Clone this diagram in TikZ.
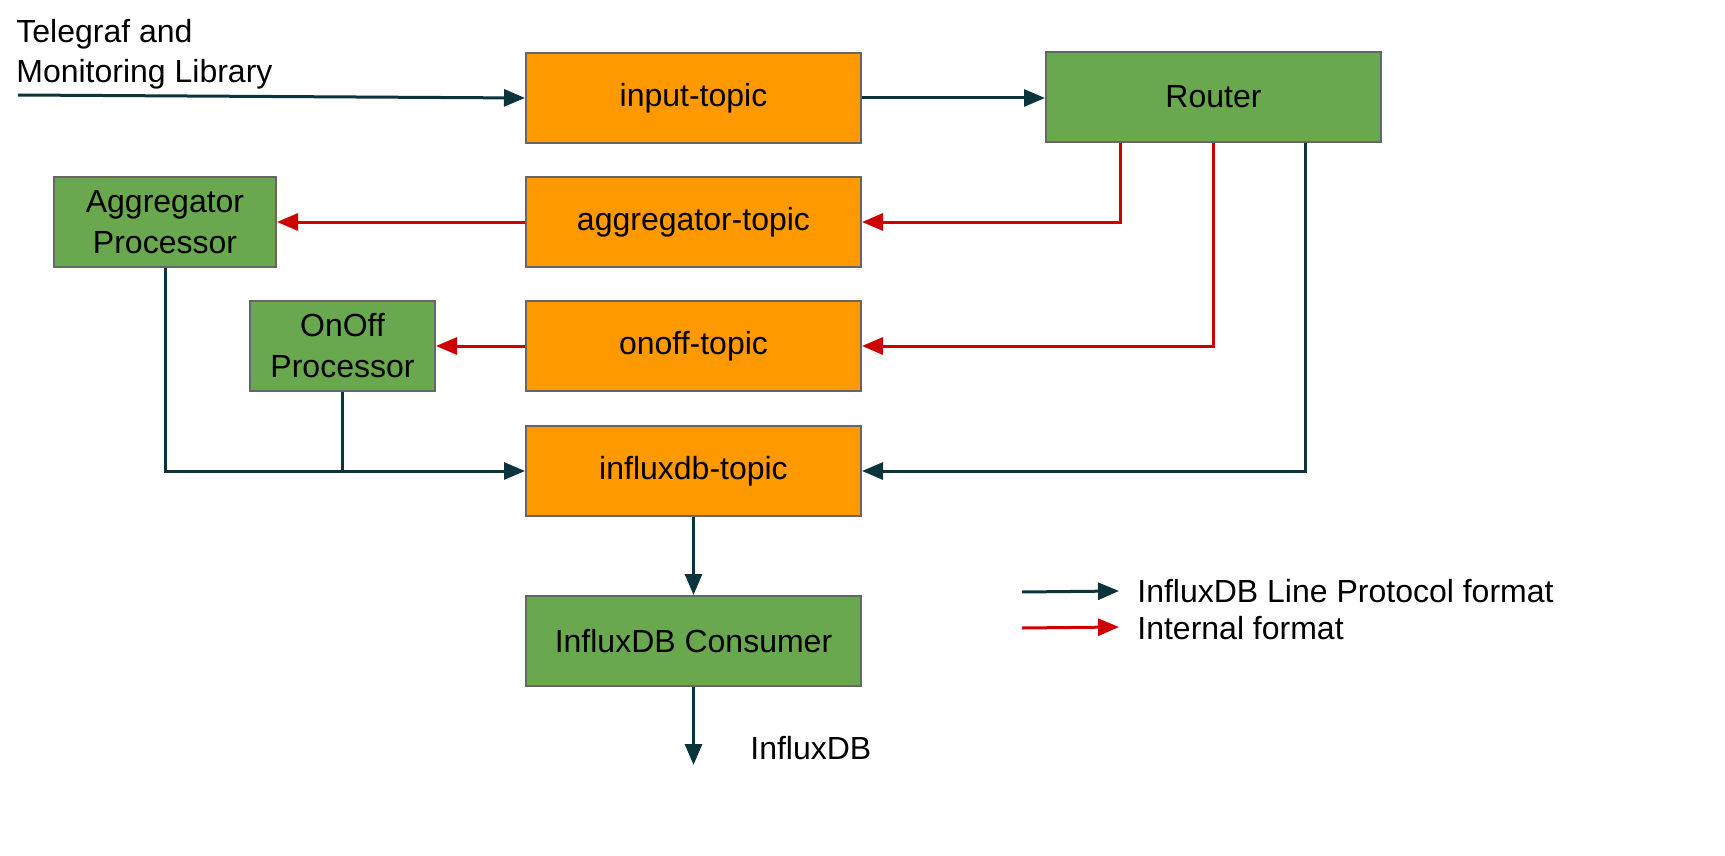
\documentclass[tikz,border=0pt]{standalone}
\usepackage{fontspec}
\setmainfont{Liberation Sans}
\usetikzlibrary{arrows.meta}
\definecolor{orangebox}{HTML}{FF9900}
\definecolor{greenbox}{HTML}{6AA84F}
\definecolor{boxline}{HTML}{666666}
\definecolor{darkline}{HTML}{0C343D}
\definecolor{redline}{HTML}{CC0000}
\tikzset{
  base/.style={draw=boxline, line width=1pt, minimum width=167.5pt, minimum height=45pt, inner sep=0pt, align=center, font=\fontsize{16}{20.5}\selectfont},
  topicbox/.style={base, fill=orangebox},
  procbox/.style={base, fill=greenbox},
  txt/.style={font=\fontsize{16}{20}\selectfont, inner sep=0pt, align=left},
  lp/.style={draw=darkline, line width=1.5pt, -{Triangle[length=10.5pt,width=8.5pt]}},
  lpplain/.style={draw=darkline, line width=1.5pt},
  intf/.style={draw=redline, line width=1.5pt, -{Triangle[length=10.5pt,width=8.5pt]}},
}
\begin{document}
\begin{tikzpicture}[x=0.5pt,y=-0.5pt]
\useasboundingbox (0,0) rectangle (1725,856);
% topics
\node[topicbox] (input) at (693.5,98) {input-topic};
\node[topicbox] (aggt) at (693.5,222) {aggregator-topic};
\node[topicbox] (onofft) at (693.5,346) {onoff-topic};
\node[topicbox] (influxt) at (693.5,471) {influxdb-topic};
\node[procbox] (consumer) at (693.5,641) {InfluxDB Consumer};
\node[procbox] (router) at (1213.5,97) {Router};
\node[procbox, minimum width=111pt] (aggp) at (165,222) {Aggregator\\Processor};
\node[procbox, minimum width=92.5pt] (onoffp) at (342.5,346) {OnOff\\Processor};
% texts
\node[txt, anchor=north west] (telegraf) at (16,19) {Telegraf and\\Monitoring Library};
\node[txt, anchor=west] (influxdb) at (750,748) {InfluxDB};
\coordinate (tstart) at (18,95);
\coordinate (dbend) at (693.5,765);
% connectors
\draw[lp] (tstart) -- (input.west);
\draw[lp] (input.east) -- (router.west |- input.east);
\draw[intf] (router.south -| 1120,0) |- (aggt.east);
\draw[intf] (router.south) |- (onofft.east);
\draw[lp] (router.south -| 1305,0) |- (influxt.east);
\draw[intf] (aggt.west) -- (aggp.east);
\draw[intf] (onofft.west) -- (onoffp.east);
\draw[lp] (aggp.south) |- (influxt.west);
\draw[lpplain] (onoffp.south) -- (onoffp.south |- influxt.west);
\draw[lp] (influxt.south) -- (consumer.north);
\draw[lp] (consumer.south) -- (dbend);
% legend
\coordinate (l1a) at (1022,592);
\coordinate (l1b) at (1119,591);
\coordinate (l2a) at (1022,628);
\coordinate (l2b) at (1119,627);
\draw[lp] (l1a) -- (l1b);
\draw[intf] (l2a) -- (l2b);
\node[txt, anchor=west] (leg1) at (1137,591) {InfluxDB Line Protocol format};
\node[txt, anchor=west] (leg2) at (1137,628) {Internal format};
\end{tikzpicture}
\end{document}
